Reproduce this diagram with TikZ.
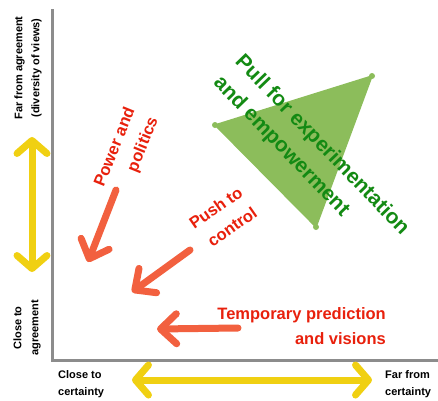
\documentclass[tikz,border=0pt]{standalone}
\usepackage{fontspec}
\setmainfont{Liberation Sans}
\usepackage{tikz}
\usetikzlibrary{arrows.meta}
\definecolor{Axis}{HTML}{8C8C8C}
\definecolor{Gold}{HTML}{F0D012}
\definecolor{Coral}{HTML}{F2603F}
\definecolor{Crimson}{HTML}{E8200C}
\definecolor{Leaf}{HTML}{8CBD5B}
\definecolor{Forest}{HTML}{138A13}
\tikzset{
  axisline/.style={draw=Axis,line width=3pt},
  spanarrow/.style={{Straight Barb[length=13pt,width=30pt,round]}-{Straight Barb[length=13pt,width=30pt,round]},draw=Gold,line width=7pt},
  pusharrow/.style={-{Straight Barb[length=16pt,width=30pt,round]},draw=Coral,line width=7pt,line cap=round},
  axislabel/.style={font=\bfseries\fontsize{11}{17}\selectfont,align=center,inner sep=0pt},
  forcetext/.style={text=Crimson,font=\bfseries\fontsize{16.5}{25}\selectfont,align=right,inner sep=0pt},
  pulltext/.style={text=Forest,font=\bfseries\fontsize{21}{30}\selectfont,align=left,inner sep=0pt},
  vertexdot/.style={circle,fill=Leaf,inner sep=0pt,minimum size=6pt}
}
\begin{document}
\begin{tikzpicture}[x=1pt,y=-1pt]
  \useasboundingbox (0,0) rectangle (438,400);
  \coordinate (top) at (52,9);
  \coordinate (origin) at (52,360);
  \coordinate (right) at (438,360);
  \draw[axisline] (top) -- (origin) -- (right);
  \coordinate (agree hi) at (32,137);
  \coordinate (agree lo) at (32,272);
  \draw[spanarrow] (agree hi) -- (agree lo);
  \coordinate (cert lo) at (132,380);
  \coordinate (cert hi) at (372,380);
  \draw[spanarrow] (cert lo) -- (cert hi);
  \node[axislabel,rotate=90] (faragree) at (28,68) {Far from agreement\\(diversity of views)};
  \node[axislabel,rotate=90] (closeagree) at (27,328) {Close to\\agreement};
  \node[axislabel,align=left,anchor=west] (closecert) at (58,384) {Close to\\certainty};
  \node[axislabel,align=left,anchor=west] (farcert) at (385,384) {Far from\\certainty};
  \coordinate (apex) at (372,76);
  \coordinate (left) at (215,125);
  \coordinate (tip) at (316,227);
  \fill[Leaf,draw=Leaf,line width=1.5pt,line join=round] (apex) -- (left) -- (tip) -- cycle;
  \foreach \c in {apex,left,tip}
    \node[vertexdot] (\c dot) at (\c) {};
  \node[pulltext,rotate=-46] (pull) at (311,156) {Pull for experimentation\\and empowerment};
  \node[forcetext,rotate=68] (power) at (127,152) {Power and\\politics};
  \node[forcetext,rotate=35] (control) at (223,218) {Push to\\control};
  \node[forcetext,anchor=east] (temp) at (386,326) {Temporary prediction\\and visions};
  \coordinate (power from) at (116,190);
  \coordinate (power to) at (88,262);
  \coordinate (control from) at (190,250);
  \coordinate (control to) at (132,292);
  \coordinate (temp from) at (238,328);
  \coordinate (temp to) at (157,329);
  \draw[pusharrow] (power from) -- (power to);
  \draw[pusharrow] (control from) -- (control to);
  \draw[pusharrow] (temp from) -- (temp to);
\end{tikzpicture}
\end{document}
